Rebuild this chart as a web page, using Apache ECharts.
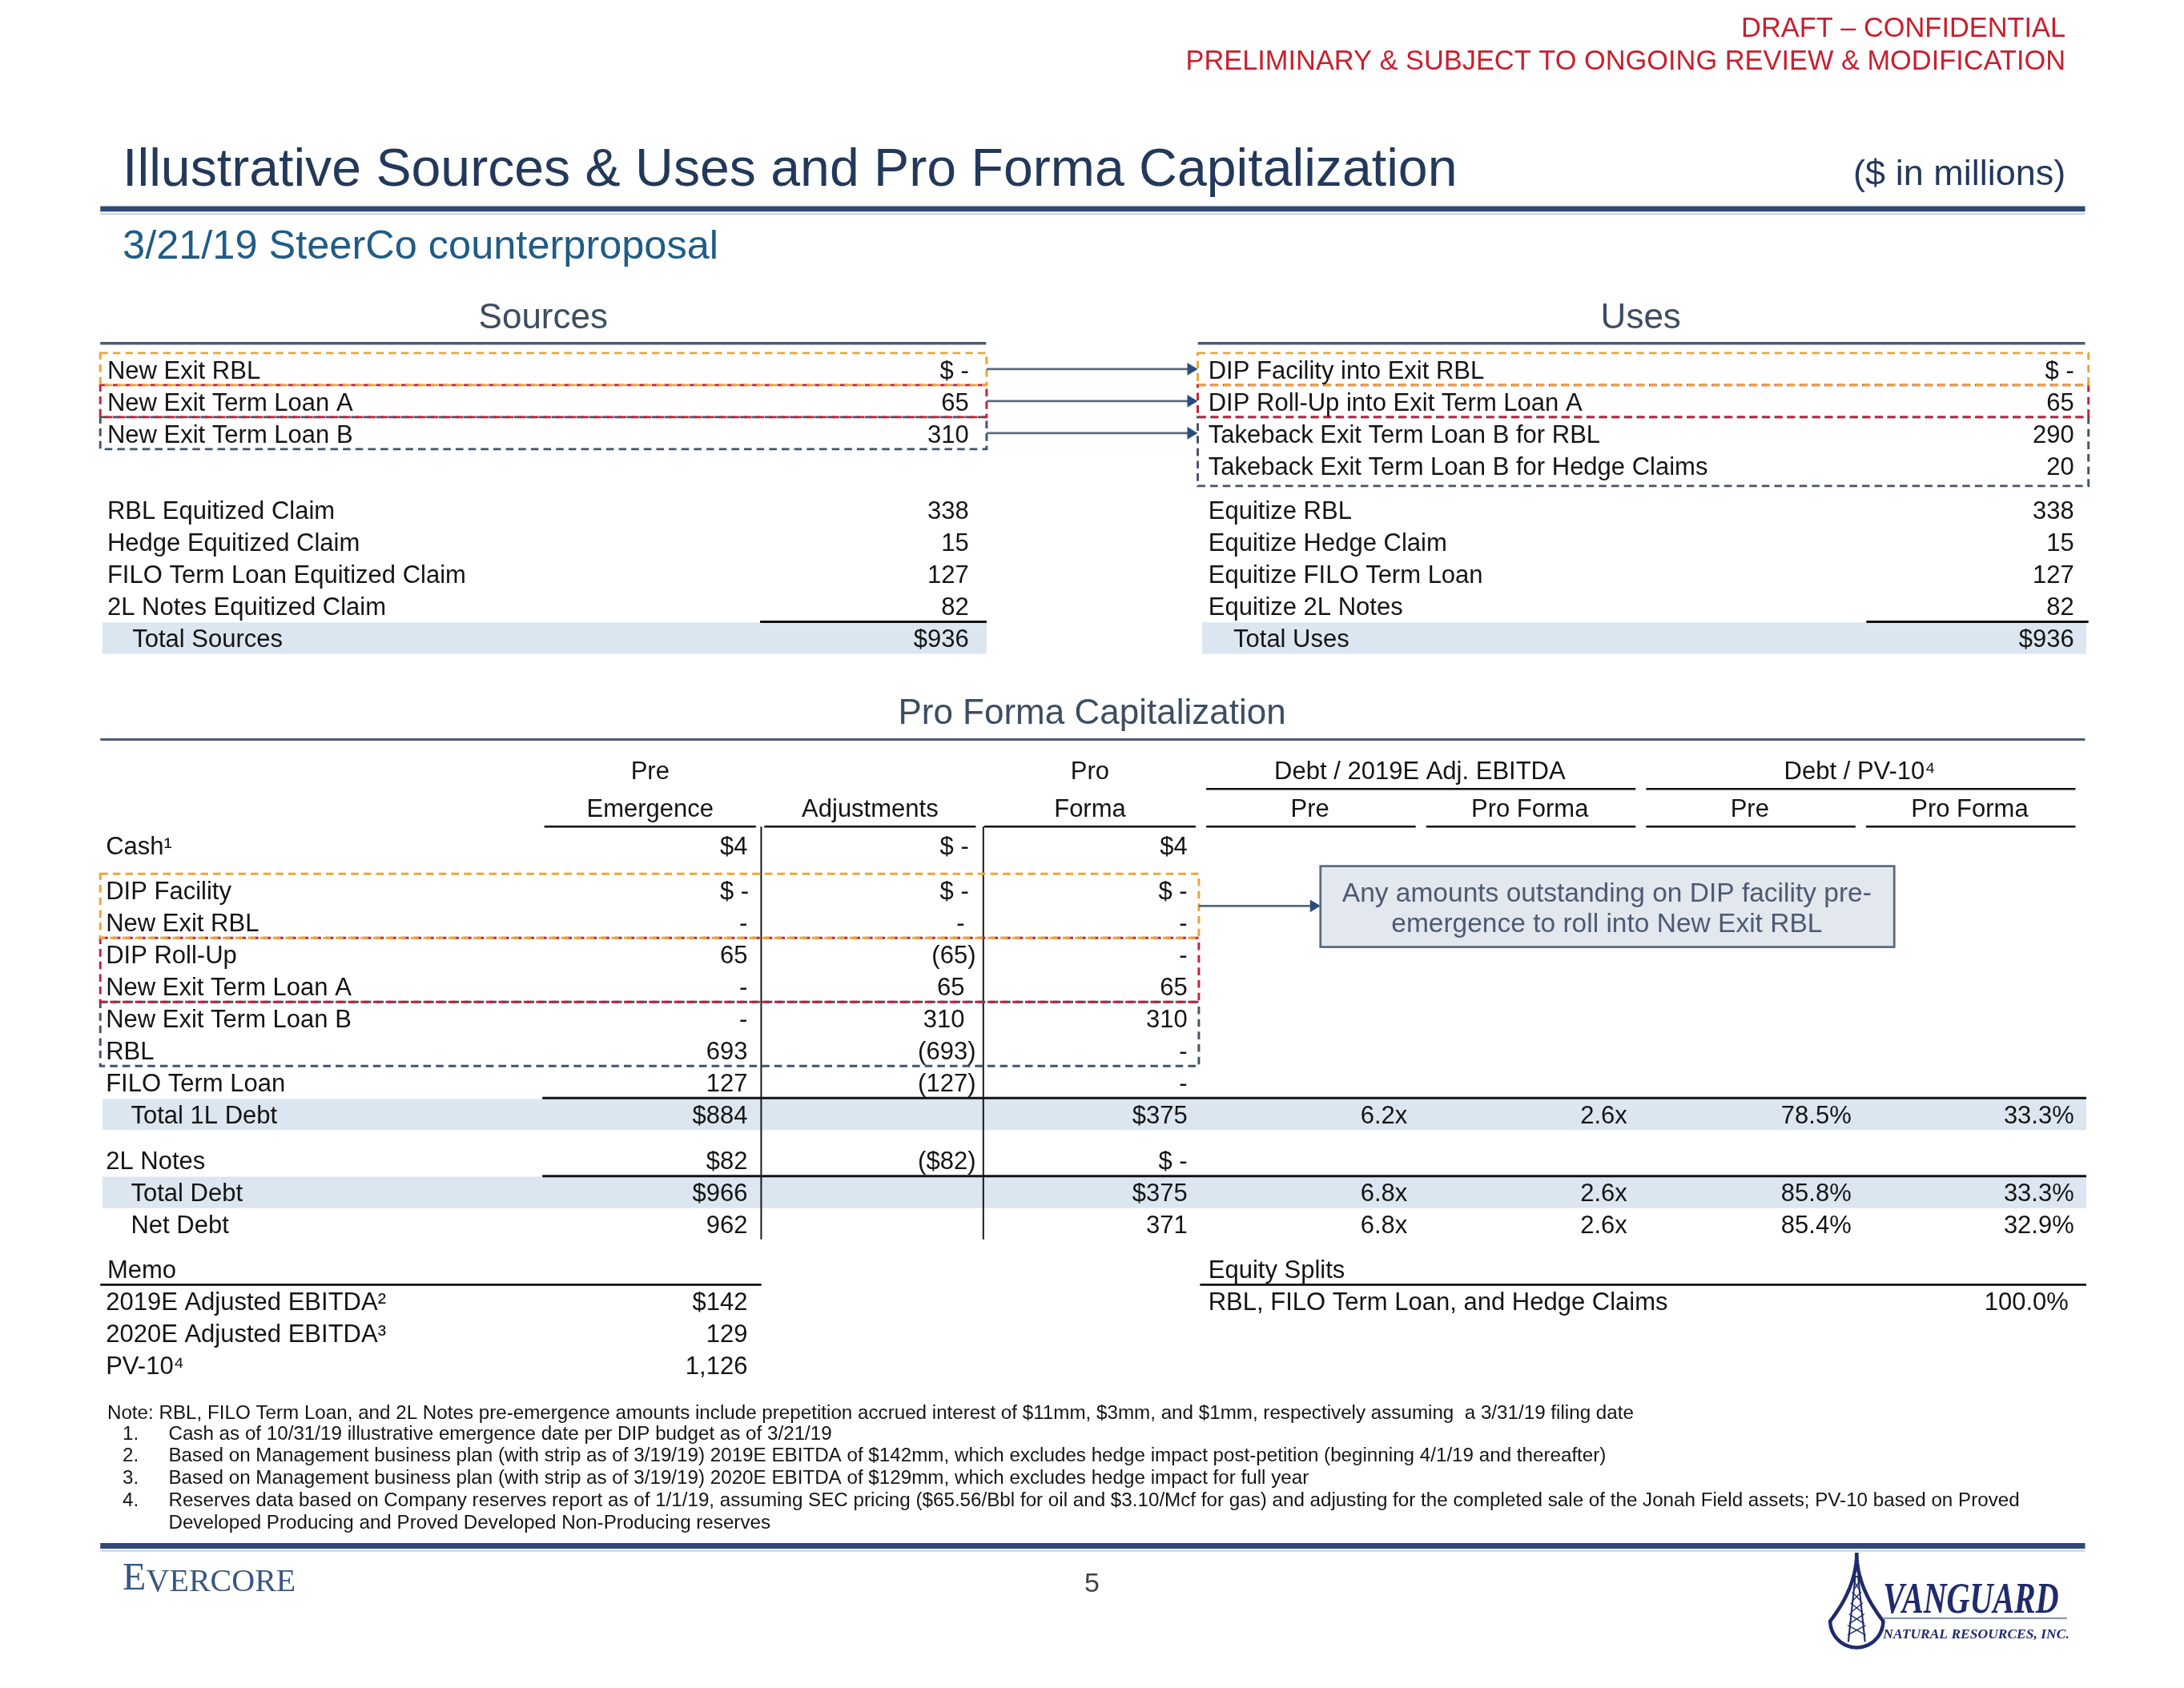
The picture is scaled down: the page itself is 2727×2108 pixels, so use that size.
<!DOCTYPE html>
<html>
<head>
<meta charset="utf-8">
<title>Illustrative Sources &amp; Uses and Pro Forma Capitalization</title>
<script src="https://cdn.jsdelivr.net/npm/echarts@6.0.0/dist/echarts.min.js"></script>
<style>
  html, body { margin: 0; padding: 0; background: #fff; }
  #chart { width: 2727px; height: 2108px; }
</style>
</head>
<body>
<div id="chart"></div>
<script>
// layout is measured on a 1568px wide copy of the slide, u() scales it up
const S = 2727 / 1568
const u = v => v * S

// ---- data ----
const sourcesTopLabels = ['New Exit RBL', 'New Exit Term Loan A', 'New Exit Term Loan B']
const sourcesTopValues = [0, 65, 310]
const usesTopLabels = ['DIP Facility into Exit RBL', 'DIP Roll-Up into Exit Term Loan A', 'Takeback Exit Term Loan B for RBL', 'Takeback Exit Term Loan B for Hedge Claims']
const usesTopValues = [0, 65, 290, 20]

const sourcesBottomLabels = ['RBL Equitized Claim', 'Hedge Equitized Claim', 'FILO Term Loan Equitized Claim', '2L Notes Equitized Claim', 'Total Sources']
const sourcesBottomValues = [338, 15, 127, 82, 936]
const usesBottomLabels = ['Equitize RBL', 'Equitize Hedge Claim', 'Equitize FILO Term Loan', 'Equitize 2L Notes', 'Total Uses']
const usesBottomValues = [338, 15, 127, 82, 936]

const capHeaderLine1 = ['Pre', '', 'Pro']
const capHeaderLine2 = ['Emergence', 'Adjustments', 'Forma']
const ratioGroups = ['Debt / 2019E Adj. EBITDA', 'Debt / PV-10\u2074']
const ratioSubHeaders = ['Pre', 'Pro Forma']

const cashLabels = ['Cash\u00b9']
const cashPre = [4]
const cashAdj = [0]
const cashPf = [4]

const firstLienLabels = ['DIP Facility', 'New Exit RBL', 'DIP Roll-Up', 'New Exit Term Loan A', 'New Exit Term Loan B', 'RBL', 'FILO Term Loan', 'Total 1L Debt']
const firstLienPre = [0, 0, 65, 0, 0, 693, 127, 884]
const firstLienAdj = [0, 0, -65, 65, 310, -693, -127, null]
const firstLienPf = [0, 0, 0, 65, 310, 0, 0, 375]

const totalDebtLabels = ['2L Notes', 'Total Debt', 'Net Debt']
const totalDebtPre = [82, 966, 962]
const totalDebtAdj = [-82, null, null]
const totalDebtPf = [0, 375, 371]

const leverageRows = ['Total 1L Debt', 'Total Debt', 'Net Debt']
const debtEbitdaPre = [6.2, 6.8, 6.8]
const debtEbitdaPf = [2.6, 2.6, 2.6]
const debtPv10Pre = [78.5, 85.8, 85.4]
const debtPv10Pf = [33.3, 33.3, 32.9]

const memoLabels = ['2019E Adjusted EBITDA\u00b2', '2020E Adjusted EBITDA\u00b3', 'PV-10\u2074']
const memoValues = [142, 129, 1126]
const equitySplitLabels = ['RBL, FILO Term Loan, and Hedge Claims']
const equitySplitValues = [100.0]

const calloutLines = ['Any amounts outstanding on DIP facility pre-', 'emergence to roll into New Exit RBL']

const footnoteMarks = ['1.', '2.', '3.', '4.', '']
const footnotes = [
  'Cash as of 10/31/19 illustrative emergence date per DIP budget as of 3/21/19',
  'Based on Management business plan (with strip as of 3/19/19) 2019E EBITDA of $142mm, which excludes hedge impact post-petition (beginning 4/1/19 and thereafter)',
  'Based on Management business plan (with strip as of 3/19/19) 2020E EBITDA of $129mm, which excludes hedge impact for full year',
  'Reserves data based on Company reserves report as of 1/1/19, assuming SEC pricing ($65.56/Bbl for oil and $3.10/Mcf for gas) and adjusting for the completed sale of the Jonah Field assets; PV-10 based on Proved',
  'Developed Producing and Proved Developed Non-Producing reserves',
]
const noteLine = 'Note: RBL, FILO Term Loan, and 2L Notes pre-emergence amounts include prepetition accrued interest of $11mm, $3mm, and $1mm, respectively assuming  a 3/31/19 filing date'

// formatting rules: which rows carry a "$", which are indented totals
const suDollarRows = ['New Exit RBL', 'DIP Facility into Exit RBL', 'Total Sources', 'Total Uses']
const capDollarRows = ['Cash\u00b9', 'DIP Facility', 'Total 1L Debt', '2L Notes', 'Total Debt', '2019E Adjusted EBITDA\u00b2']
const indentRows = ['Total Sources', 'Total Uses', 'Total 1L Debt', 'Total Debt', 'Net Debt']
const bandRows = ['Total Sources', 'Total Uses', 'Total 1L Debt', 'Total Debt']

// ---- style ----
const FONT = '"Liberation Sans", Arial, Helvetica, sans-serif'
const SERIF = '"Liberation Serif", "DejaVu Serif", serif'
const TEXT = '#141414'
const NAVY = '#23395b'
const SLATE = '#44546a'
const ORANGE = '#eba63a'
const RED = '#c4213a'
const BAND = '#dce6f1'
const tableFont = `31px ${FONT}`
const TEXT_DY = u(1.8)
const COLUMNS = ['label', 'label2', 'preEmergence', 'adjustments', 'proForma', 'ebitdaPre', 'ebitdaPf', 'pvPre', 'pvPf']
const COL_W = 157.9
const DASH = [u(5.5), u(3.5)]

function fmtAmount(v, dollar) {
  if (v === null) return ''
  if (v === 0) return dollar ? '$ -' : '-'
  const s = Math.abs(v).toLocaleString('en-US')
  if (v < 0) return dollar ? `($${s})` : `(${s})`
  return dollar ? `$${s}` : s
}

function textLeft(list, col, row, text, pad, extra) {
  list.push(Object.assign({ kind: 'text', c: col + pad / COL_W, r: row + 0.5, text, align: 'left' }, extra))
}
function textRight(list, col, row, text, pad, extra) {
  list.push(Object.assign({ kind: 'text', c: col + 1 - pad / COL_W, r: row + 0.5, text, align: 'right' }, extra))
}
function textCenter(list, c, r, text, extra) {
  list.push(Object.assign({ kind: 'text', c, r, text, align: 'center' }, extra))
}
function amount(list, col, row, v, dollar, pads) {
  if (v === null) return
  const pad = v < 0 ? pads.neg : (v === 0 && dollar ? pads.zero : pads.pos)
  textRight(list, col, row, fmtAmount(v, dollar), pad)
}
function rowLabel(list, col, row, label, pad) {
  textLeft(list, col, row, label, indentRows.includes(label) ? pad + 18 : pad)
}
function hline(list, c1, c2, r, stroke, lineWidth) {
  list.push({ kind: 'line', c1, c2, r1: r, r2: r, stroke, lineWidth })
}
function dashBox(list, c1, c2, r1, r2, stroke) {
  list.push({ kind: 'rect', c1, c2, r1, r2, stroke, lineWidth: u(1.7), dash: DASH })
}
function arrow(list, c1, c2, r) {
  list.push({ kind: 'arrow', c1, c2, r, stroke: '#5a6a7e', lineWidth: u(1.6), head: '#2d4c7c', headLength: u(7.5), headHeight: u(9) })
}

function drawItem(item, api) {
  const col = api.value(0)
  const row = api.value(1)
  const p = api.coord([col, row])
  const size = api.size([1, 1])
  const X = c => p[0] + (c - col - 0.5) * size[0]
  const Y = r => p[1] + (r - row - 0.5) * size[1]
  if (item.kind === 'text') {
    return {
      type: 'text', x: X(item.c), y: Y(item.r) + TEXT_DY,
      style: {
        text: item.text, fill: item.color || TEXT, font: item.font || tableFont,
        textAlign: item.align, textVerticalAlign: 'middle',
      },
    }
  }
  if (item.kind === 'rect') {
    const style = { fill: item.fill || 'none', stroke: item.stroke || 'none', lineWidth: item.lineWidth || 0 }
    if (item.dash) style.lineDash = item.dash
    return { type: 'rect', shape: { x: X(item.c1), y: Y(item.r1), width: X(item.c2) - X(item.c1), height: Y(item.r2) - Y(item.r1) }, style }
  }
  if (item.kind === 'line') {
    return { type: 'line', shape: { x1: X(item.c1), y1: Y(item.r1), x2: X(item.c2), y2: Y(item.r2) }, style: { stroke: item.stroke, lineWidth: item.lineWidth } }
  }
  const x1 = X(item.c1)
  const x2 = X(item.c2)
  const y = Y(item.r)
  return {
    type: 'group',
    children: [
      { type: 'line', shape: { x1, y1: y, x2: x2 - item.headLength + 1, y2: y }, style: { stroke: item.stroke, lineWidth: item.lineWidth } },
      { type: 'polygon', shape: { points: [[x2, y], [x2 - item.headLength, y - item.headHeight / 2], [x2 - item.headLength, y + item.headHeight / 2]] }, style: { fill: item.head } },
    ],
  }
}

// ---- table blocks (each one grid, same 9 columns) ----
const blocks = [
  { top: 253.5, rowH: 23, rows: usesTopLabels },
  { top: 354.5, rowH: 23, rows: sourcesBottomLabels },
  { top: 539.5, rowH: 27, rows: ['line1', 'line2'] },
  { top: 595.5, rowH: 23, rows: cashLabels },
  { top: 627.5, rowH: 23, rows: firstLienLabels },
  { top: 821.5, rowH: 23, rows: totalDebtLabels },
  { top: 899.5, rowH: 23, rows: ['Memo'].concat(memoLabels) },
]
blocks.forEach((b) => { b.back = []; b.mid = []; b.front = [] })

const suPads = { pos: 8, neg: 2, zero: 8 }
const usesPads = { pos: 4, neg: 0, zero: 4 }

// sources & uses, top part
{
  const b = blocks[0]
  dashBox(b.mid, 0, 4.03, 2, 3, SLATE)
  dashBox(b.mid, 0, 4.03, 1, 2, RED)
  dashBox(b.mid, 0, 4.03, 0, 1, ORANGE)
  dashBox(b.mid, 4.99, 9.04, 2, 4.15, SLATE)
  dashBox(b.mid, 4.99, 9.04, 1, 2, RED)
  dashBox(b.mid, 4.99, 9.04, 0, 1, ORANGE)
  sourcesTopLabels.forEach((label, i) => {
    rowLabel(b.front, 0, i, label, 5)
    amount(b.front, 3, i, sourcesTopValues[i], suDollarRows.includes(label), suPads)
    arrow(b.mid, 4.03, 4.99, i + 0.5)
  })
  usesTopLabels.forEach((label, i) => {
    rowLabel(b.front, 5, i, label, 6)
    amount(b.front, 8, i, usesTopValues[i], suDollarRows.includes(label), usesPads)
  })
}
// sources & uses, equitized part
{
  const b = blocks[1]
  sourcesBottomLabels.forEach((label, i) => {
    if (bandRows.includes(label)) {
      b.back.push({ kind: 'rect', c1: 0.01, c2: 4.03, r1: i + 0.02, r2: i + 1, fill: BAND })
      hline(b.mid, 3.0, 4.03, i, '#111', u(1.7))
    }
    rowLabel(b.front, 0, i, label, 5)
    amount(b.front, 3, i, sourcesBottomValues[i], suDollarRows.includes(label), suPads)
  })
  usesBottomLabels.forEach((label, i) => {
    if (bandRows.includes(label)) {
      b.back.push({ kind: 'rect', c1: 5.01, c2: 9.03, r1: i + 0.02, r2: i + 1, fill: BAND })
      hline(b.mid, 8.03, 9.04, i, '#111', u(1.7))
    }
    rowLabel(b.front, 5, i, label, 6)
    amount(b.front, 8, i, usesBottomValues[i], suDollarRows.includes(label), usesPads)
  })
}
// pro forma column headers
{
  const b = blocks[2]
  const inset = 3 / COL_W
  capHeaderLine1.forEach((t, i) => { if (t) textCenter(b.front, i + 2.5, 0.5, t) })
  capHeaderLine2.forEach((t, i) => {
    textCenter(b.front, i + 2.5, 1.5, t)
    hline(b.mid, i + 2 + inset, i + 3 - inset, 2, '#111', u(1.5))
  })
  ratioGroups.forEach((t, g) => {
    const c0 = 5 + g * 2
    textCenter(b.front, c0 + 1, 0.5, t)
    hline(b.mid, c0 + 1.5 * inset, c0 + 2 - inset, 1, '#111', u(1.5))
    ratioSubHeaders.forEach((s, k) => {
      textCenter(b.front, c0 + k + 0.5, 1.5, s)
      hline(b.mid, c0 + k + 1.5 * inset, c0 + k + 1 - inset, 2, '#111', u(1.5))
    })
  })
  b.mid.push({ kind: 'line', c1: 3.005, c2: 3.005, r1: 2, r2: 12.98, stroke: '#111', lineWidth: u(1.1) })
  b.mid.push({ kind: 'line', c1: 4.015, c2: 4.015, r1: 2, r2: 12.98, stroke: '#111', lineWidth: u(1.1) })
}

const prePads = { pos: 9, neg: 3, zero: 8 }
const adjPads = { pos: 11, neg: 3, zero: 8 }
const pfPads = { pos: 9, neg: 3, zero: 9 }
const ratioPads = [9, 9, 6, 4]

function capRows(b, labels, pre, adj, pf) {
  labels.forEach((label, i) => {
    const dollar = capDollarRows.includes(label)
    if (bandRows.includes(label)) {
      b.back.push({ kind: 'rect', c1: 0.01, c2: 9.03, r1: i + 0.02, r2: i + 1, fill: BAND })
      hline(b.mid, 2.01, 9.03, i, '#111', u(1.7))
    }
    rowLabel(b.front, 0, i, label, 4)
    amount(b.front, 2, i, pre[i], dollar, prePads)
    amount(b.front, 3, i, adj[i], dollar, adjPads)
    amount(b.front, 4, i, pf[i], dollar, pfPads)
    const k = leverageRows.indexOf(label)
    if (k >= 0) {
      textRight(b.front, 5, i, debtEbitdaPre[k].toFixed(1) + 'x', ratioPads[0])
      textRight(b.front, 6, i, debtEbitdaPf[k].toFixed(1) + 'x', ratioPads[1])
      textRight(b.front, 7, i, debtPv10Pre[k].toFixed(1) + '%', ratioPads[2])
      textRight(b.front, 8, i, debtPv10Pf[k].toFixed(1) + '%', ratioPads[3])
    }
  })
}
capRows(blocks[3], cashLabels, cashPre, cashAdj, cashPf)
capRows(blocks[4], firstLienLabels, firstLienPre, firstLienAdj, firstLienPf)
capRows(blocks[5], totalDebtLabels, totalDebtPre, totalDebtAdj, totalDebtPf)
{
  const b = blocks[4]
  dashBox(b.mid, 0, 4.995, 4, 6, SLATE)
  dashBox(b.mid, 0, 4.995, 2, 4, RED)
  dashBox(b.mid, 0, 4.995, 0, 2, ORANGE)
  arrow(b.mid, 4.995, 5.548, 1.0)
  b.mid.push({ kind: 'rect', c1: 5.548, c2: 8.157, r1: -0.24, r2: 2.28, fill: '#e3e7ee', stroke: '#5b6b80', lineWidth: u(1.6) })
  calloutLines.forEach((t, i) => textCenter(b.front, 6.85, 0.56 + i * 0.95, t, { color: '#4b5b72', font: `33.5px ${FONT}` }))
}
// memo + equity splits
{
  const b = blocks[6]
  textLeft(b.front, 0, 0, 'Memo', 5)
  hline(b.mid, 0, 3.006, 1, '#111', u(1.7))
  memoLabels.forEach((label, i) => {
    textLeft(b.front, 0, i + 1, label, 4)
    amount(b.front, 2, i + 1, memoValues[i], capDollarRows.includes(label), prePads)
  })
  textLeft(b.front, 5, 0, 'Equity Splits', 6)
  hline(b.mid, 5.0, 9.03, 1, '#111', u(1.7))
  equitySplitLabels.forEach((label, i) => {
    textLeft(b.front, 5, i + 1, label, 6)
    textRight(b.front, 8, i + 1, equitySplitValues[i].toFixed(1) + '%', 8)
  })
}

const grids = blocks.map(b => ({ left: u(72), top: u(b.top), width: u(COL_W * 9), height: u(b.rowH * b.rows.length) }))
const xAxes = blocks.map((b, i) => ({ type: 'category', gridIndex: i, data: COLUMNS, show: false }))
const yAxes = blocks.map((b, i) => ({ type: 'category', gridIndex: i, data: b.rows, inverse: true, show: false }))

const clamp = (v, lo, hi) => Math.max(lo, Math.min(hi, v))
function layer(index, items, z) {
  const nRows = blocks[index].rows.length
  return {
    type: 'custom', xAxisIndex: index, yAxisIndex: index, z, silent: true, clip: false, animation: false,
    data: items.map(it => [clamp(Math.floor(it.c !== undefined ? it.c : it.c1), 0, 8), clamp(Math.floor(it.r !== undefined ? it.r : it.r1), 0, nRows - 1)]),
    renderItem: (params, api) => drawItem(items[params.dataIndex], api),
  }
}
const series = []
blocks.forEach((b, i) => {
  series.push(layer(i, b.back, 1), layer(i, b.mid, 2), layer(i, b.front, 3))
})

// ---- slide chrome ----
function txt(x, y, text, font, fill, align, vAlign, extra) {
  return Object.assign({
    type: 'text', x: u(x), y: u(y) + TEXT_DY, silent: true,
    style: { text, font, fill, textAlign: align || 'left', textVerticalAlign: vAlign || 'middle' },
  }, extra)
}
function rule(x1, x2, y, stroke, w) {
  return { type: 'line', silent: true, shape: { x1: u(x1), y1: u(y), x2: u(x2), y2: u(y) }, style: { stroke, lineWidth: w } }
}
const NOTE_FONT = `24.2px ${FONT}`
const chrome = [
  txt(1483, 19, 'DRAFT \u2013 CONFIDENTIAL', `34.4px ${FONT}`, '#c8202f', 'right'),
  txt(1483, 43, 'PRELIMINARY & SUBJECT TO ONGOING REVIEW & MODIFICATION', `34.4px ${FONT}`, '#c8202f', 'right'),
  txt(88, 121, 'Illustrative Sources & Uses and Pro Forma Capitalization', `66.2px ${FONT}`, NAVY),
  txt(1483, 124, '($ in millions)', `45px ${FONT}`, NAVY, 'right'),
  rule(72, 1497, 150, '#2f4878', u(4)),
  rule(72, 1497, 153.6, '#c6d3e6', u(1.3)),
  txt(88, 176, '3/21/19 SteerCo counterproposal', `50.5px ${FONT}`, '#1f5c87'),
  txt(390, 227, 'Sources', `44px ${FONT}`, '#3d4d62', 'center'),
  txt(1178, 227, 'Uses', `44px ${FONT}`, '#3d4d62', 'center'),
  rule(72, 708, 246.5, '#4d5c70', u(2)),
  rule(860, 1497, 246.5, '#4d5c70', u(2)),
  txt(784, 511, 'Pro Forma Capitalization', `44px ${FONT}`, '#3d4d62', 'center'),
  rule(72, 1497, 531, '#4d5c70', u(1.8)),
  txt(77, 1013, noteLine, NOTE_FONT, TEXT),
  rule(72, 1497, 1110, '#2f4878', u(4)),
  rule(72, 1497, 1113.6, '#c6d3e6', u(1.3)),
  txt(88, 1146, 'E', `48px ${SERIF}`, '#3a5683', 'left', 'bottom'),
  txt(105, 1146, 'VERCORE', `40px ${SERIF}`, '#3a5683', 'left', 'bottom'),
  txt(784, 1136, '5', `34px ${FONT}`, '#404040', 'center'),
]
footnotes.forEach((t, i) => {
  const y = 1028 + i * 16
  if (footnoteMarks[i]) chrome.push(txt(88, y, footnoteMarks[i], NOTE_FONT, TEXT))
  chrome.push(txt(121, y, t, NOTE_FONT, TEXT))
})

// Vanguard mark: drop outline with a derrick inside
const dropPts = []
for (let k = 0; k <= 20; k += 1) {
  const t = k / 20
  dropPts.push([u(1333 + 19 * t * t), u(1115 + 49 * t)])
}
for (let k = 1; k < 36; k += 1) {
  const a = Math.PI * k / 36
  dropPts.push([u(1333 + 19 * Math.cos(a)), u(1164 + 19 * Math.sin(a))])
}
for (let k = 20; k >= 0; k -= 1) {
  const t = k / 20
  dropPts.push([u(1333 - 19 * t * t), u(1115 + 49 * t)])
}
chrome.push({ type: 'polygon', silent: true, shape: { points: dropPts }, style: { fill: 'none', stroke: '#1f2b6c', lineWidth: u(2.6) } })
chrome.push({ type: 'polyline', silent: true, shape: { points: [[u(1327), u(1179)], [u(1332), u(1132)], [u(1334), u(1132)], [u(1339), u(1179)]] }, style: { fill: 'none', stroke: '#1f2b6c', lineWidth: u(1.2) } })
;[1142, 1150, 1158, 1166, 1174].forEach((y) => {
  const h = (y - 1132) / 46 * 6
  chrome.push({ type: 'line', silent: true, shape: { x1: u(1333 - h - 1), y1: u(y), x2: u(1333 + h + 1), y2: u(y - 7) }, style: { stroke: '#1f2b6c', lineWidth: u(0.8) } })
  chrome.push({ type: 'line', silent: true, shape: { x1: u(1333 + h + 1), y1: u(y), x2: u(1333 - h - 1), y2: u(y - 7) }, style: { stroke: '#1f2b6c', lineWidth: u(0.8) } })
})
chrome.push(txt(1352, 1148, 'VANGUARD', `italic bold 40px ${SERIF}`, '#1f2b6c', 'left', 'middle', { scaleY: 1.35 }))
chrome.push(rule(1352, 1484, 1162, '#8f98ab', u(1.4)))
chrome.push(txt(1352, 1172, 'NATURAL RESOURCES, INC.', `italic bold 17.5px ${SERIF}`, '#1f2b6c'))

const chart = echarts.init(document.getElementById('chart'))
chart.setOption({
  backgroundColor: '#ffffff',
  animation: false,
  grid: grids,
  xAxis: xAxes,
  yAxis: yAxes,
  series,
  graphic: { elements: chrome },
})
</script>
</body>
</html>
